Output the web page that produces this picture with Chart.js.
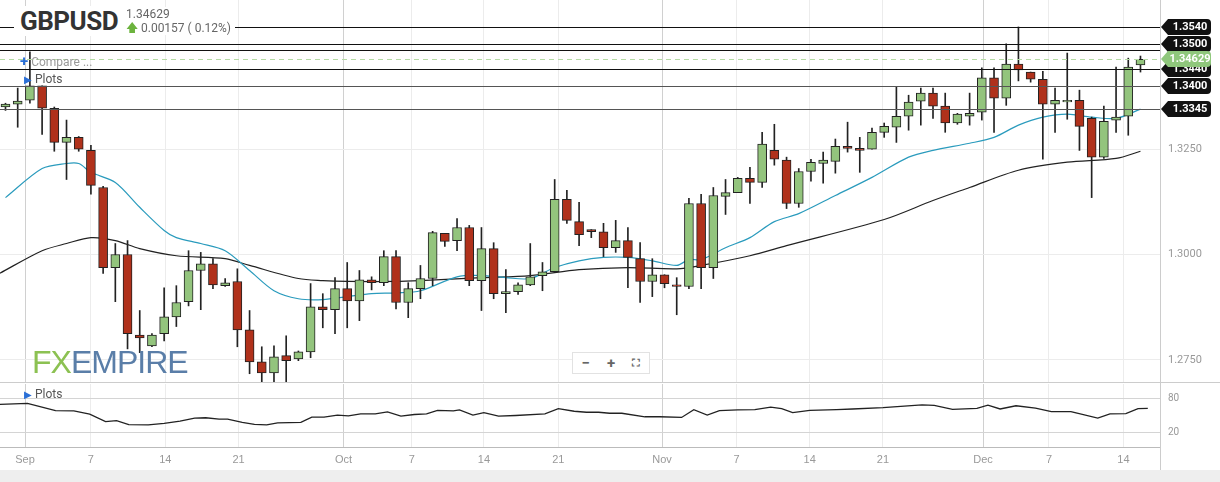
<!DOCTYPE html>
<html>
<head>
<title>GBPUSD</title>
<script src="https://cdn.jsdelivr.net/npm/chart.js"></script>
<style>
  body { margin: 0; background: #fff; font-family: Roboto, "Open Sans", sans-serif; }
  #wrap { position: relative; width: 1220px; height: 482px; overflow: hidden; }
  canvas { position: absolute; left: 0; }
  .txt { position: absolute; white-space: nowrap; }
</style>
</head>
<body>
<div id="wrap">
  <canvas id="mainChart" style="top:0" width="1220" height="383"></canvas>
  <canvas id="rsiChart" style="top:383px" width="1220" height="87"></canvas>
  <div style="position:absolute;left:0;top:470px;width:1220px;height:12px;background:#eee"></div>
  <div class="txt" style="left:14px;top:6px;background:#fff;padding:0 6px;font:bold 26px Roboto;color:#333;letter-spacing:-0.5px">GBPUSD</div>
  <div class="txt" style="left:122px;top:7px;background:#fff;padding:0 4px;font:12px Roboto;color:#666;line-height:14px">1.34629<br><span style="color:#6cb33e">&#129093;</span> 0.00157 ( 0.12%)</div>
  <div class="txt" style="left:20px;top:52px;font:12px Roboto;color:#999"><span style="color:#2a6fd6;font-weight:bold;font-size:15px">+</span> Compare ...</div>
  <div class="txt" style="left:24px;top:72px;font:12px Roboto;color:#555"><span style="color:#2a6fd6;font-size:10px">&#9654;</span> Plots</div>
  <div class="txt" style="left:24px;top:387px;font:12px Roboto;color:#555"><span style="color:#2a6fd6;font-size:10px">&#9654;</span> Plots</div>
  <div class="txt" style="left:32px;top:344px;font:32px 'Liberation Sans',Arial;letter-spacing:-1px"><span style="color:#8cc152">FX</span><span style="color:#5a7ea8">EMPIRE</span></div>
  <div class="txt" style="left:572px;top:352px;width:76px;height:20px;border:1px solid #e2e2e2;background:#fff;font:bold 15px Roboto;color:#666;display:flex;justify-content:space-around;align-items:center"><span>&minus;</span><span>+</span><span style="font-size:11px">&#9974;</span></div>
</div>
<script>
const bars = [...Array(94).keys()];
const opens  = [1.3350,1.3357,1.3366,1.3400,1.3347,1.3266,1.3278,1.3247,1.3159,1.2969,1.3000,1.2809,1.2783,1.2812,1.2852,1.2888,1.2962,1.2978,1.2926,1.2936,1.2821,1.2745,1.2719,1.2760,1.2752,1.2769,1.2876,1.2869,1.2919,1.2890,1.2940,1.2933,1.2995,1.2886,1.2919,1.2943,1.3050,1.3033,1.3064,1.2938,1.3014,1.2907,1.2912,1.2928,1.2950,1.2959,1.3131,1.3078,1.3059,1.3054,1.3016,1.3033,1.2990,1.2936,1.2952,1.2928,1.2924,1.3121,1.2969,1.3138,1.3147,1.3181,1.3171,1.3247,1.3224,1.3121,1.3197,1.3216,1.3221,1.3257,1.3252,1.3250,1.3290,1.3302,1.3328,1.3364,1.3383,1.3352,1.3312,1.3328,1.3338,1.3419,1.3371,1.3452,1.3433,1.3416,1.3357,1.3362,1.3366,1.3323,1.3231,1.3319,1.3328,1.3450];
const closes = [1.3357,1.3364,1.3400,1.3347,1.3266,1.3278,1.3250,1.3164,1.2969,1.3000,1.2812,1.2802,1.2809,1.2852,1.2886,1.2962,1.2978,1.2928,1.2933,1.2821,1.2745,1.2719,1.2757,1.2748,1.2769,1.2876,1.2869,1.2919,1.2890,1.2940,1.2933,1.2995,1.2886,1.2919,1.2943,1.3052,1.3031,1.3064,1.2938,1.3014,1.2907,1.2912,1.2928,1.2947,1.2959,1.3131,1.3081,1.3047,1.3054,1.3016,1.3033,1.2993,1.2936,1.2952,1.2931,1.2924,1.3121,1.2969,1.3140,1.3147,1.3181,1.3171,1.3262,1.3226,1.3121,1.3197,1.3219,1.3224,1.3257,1.3252,1.3247,1.3290,1.3304,1.3328,1.3362,1.3383,1.3352,1.3312,1.3333,1.3335,1.3419,1.3371,1.3452,1.3438,1.3416,1.3357,1.3366,1.3366,1.3304,1.3231,1.3316,1.3326,1.3445,1.34629];
const highs  = [1.3359,1.3395,1.3481,1.3400,1.3350,1.3319,1.3280,1.3259,1.3162,1.3026,1.3033,1.2867,1.2812,1.2921,1.2926,1.3009,1.3005,1.2990,1.2943,1.2966,1.2867,1.2781,1.2783,1.2807,1.2771,1.2931,1.2907,1.2945,1.2981,1.2962,1.2947,1.3009,1.3009,1.2933,1.2974,1.3055,1.3050,1.3085,1.3069,1.3064,1.3028,1.2964,1.2933,1.3026,1.2981,1.3178,1.3152,1.3124,1.3059,1.3074,1.3081,1.3064,1.3028,1.2990,1.2952,1.2945,1.3133,1.3143,1.3159,1.3178,1.3183,1.3207,1.3290,1.3309,1.3231,1.3204,1.3226,1.3243,1.3274,1.3314,1.3278,1.3300,1.3312,1.3397,1.3378,1.3395,1.3395,1.3383,1.3335,1.3383,1.3443,1.3443,1.3500,1.3540,1.3433,1.3435,1.3395,1.3478,1.3390,1.3326,1.3352,1.3445,1.3466,1.3471];
const lows   = [1.3342,1.3302,1.3359,1.3285,1.3245,1.3178,1.3245,1.3143,1.2955,1.2888,1.2776,1.2767,1.2781,1.2795,1.2829,1.2878,1.2869,1.2919,1.2924,1.2781,1.2717,1.2698,1.2698,1.2695,1.2748,1.2755,1.2826,1.2812,1.2826,1.2843,1.2916,1.2926,1.2871,1.2850,1.2895,1.2926,1.3019,1.3009,1.2926,1.2867,1.2895,1.2862,1.2905,1.2926,1.2914,1.2957,1.3074,1.3021,1.3040,1.2995,1.3005,1.2921,1.2886,1.2900,1.2921,1.2857,1.2919,1.2919,1.2943,1.3095,1.3147,1.3121,1.3159,1.3212,1.3109,1.3112,1.3174,1.3169,1.3193,1.3243,1.3195,1.3250,1.3278,1.3266,1.3295,1.3307,1.3323,1.3290,1.3309,1.3307,1.3319,1.3290,1.3354,1.3412,1.3409,1.3226,1.3290,1.3321,1.3247,1.3135,1.3228,1.3290,1.3283,1.3433];

const fastMaX = [0,3,5,6,7,9,11,13,14,16,18,20,22,24,26,28,30,32,34,37,39,41,43,45,47,49,51,53,55,56,57,59,61,63,65,68,71,74,76,79,81,83,85,87,89,91,93];
const fastMa  = [1.3135,1.3204,1.3216,1.3216,1.3195,1.3171,1.3112,1.3057,1.3040,1.3026,1.3009,1.2962,1.2914,1.2895,1.2893,1.2900,1.2907,1.2909,1.2914,1.2947,1.2950,1.2945,1.2943,1.2969,1.2985,1.2993,1.2993,1.2985,1.2974,1.2988,1.2988,1.3016,1.3040,1.3078,1.3097,1.3140,1.3183,1.3231,1.3247,1.3264,1.3278,1.3307,1.3326,1.3333,1.3326,1.3323,1.3345];
const slowMaX = [-0.5,3,5,7,9,11,14,18,20,24,26,28,32,34,39,43,47,51,55,57,61,64,72,76,79,83,87,91,93];
const slowMa  = [1.2955,1.3009,1.3026,1.3040,1.3033,1.3014,1.2997,1.2990,1.2974,1.2943,1.2938,1.2936,1.2936,1.2938,1.2945,1.2950,1.2964,1.2969,1.2966,1.2974,1.2997,1.3021,1.3083,1.3128,1.3159,1.3200,1.3219,1.3228,1.3245];

const rsiX = [-0.5,1.8,4.1,5.6,6.9,8.2,9.1,10.1,11.7,13,14.3,15.5,16.4,17.5,18.2,19.4,20.4,21.4,22.3,24.2,25.1,26.1,27.2,28.1,29.1,30.3,31.3,32.4,33.5,34.5,35.4,36.7,37.2,38.3,39.2,40.4,41.8,44.2,45.3,46.6,47.6,48.6,49.5,50.5,52.4,53.6,55.4,56.4,57.5,58.5,60,61.4,62.7,63.6,64.5,65.9,68.1,69.4,71.9,75.1,76.1,77.6,79.6,80.5,81.5,82.8,84.4,85.7,87.3,89.5,90.5,91.8,92.8,93.6];
const rsi  = [70,71.8,58.8,58.2,52.4,38.8,40.6,33.5,33,35.9,40,45.3,45.9,43.5,43.5,37.7,34.1,33,36.5,37.7,47.1,47.1,50.6,49.4,53,53,56.5,48.8,51.8,53,59.4,58.2,60,50.6,55.3,48.8,50,53,62.4,57.7,55.9,55.9,54.1,54.1,47.7,47.7,46.5,60.6,50.6,58.8,60,60.6,65.3,62.4,55.3,59.4,60.6,61.8,64.1,69.4,68.2,61.2,62.9,68.8,61.8,67.6,63.5,57.1,57.1,45.3,53,53.5,62.4,62.9];

const dateTickX = [1.6,7,13.1,19.1,27.7,33.3,39.2,45.3,53.8,59.9,65.9,71.9,80.1,85.5,91.6];
const dateTicks = ['Sep','7','14','21','Oct','7','14','21','Nov','7','14','21','Dec','7','14'];
const priceTicks = [1.2750, 1.3000, 1.3250];
const rsiTicks = [20, 80];
const levels = [1.3540, 1.3500, 1.3485, 1.3440, 1.3400, 1.3345];
const levelLabels = ['1.3540', '1.3500', '', '1.3440', '1.3400', '1.3345'];
const lastPrice = 1.34629;

const GREEN = '#93c47d', RED = '#b0311b';
const xMin = -0.45, xMax = 94.6;

function xAxis(showTicks) {
  return {
    type: 'linear', min: xMin, max: xMax, offset: false,
    afterBuildTicks: s => { s.ticks = dateTickX.map(v => ({ value: v })); },
    afterFit: s => { s.height = showTicks ? 23 : 0; },
    ticks: {
      display: showTicks, color: '#999', font: { size: 11 }, padding: 6, autoSkip: false, maxRotation: 0,
      callback: (v, i) => dateTicks[i]
    },
    grid: {
      drawTicks: false, offset: false,
      color: c => ['Sep', 'Oct', 'Nov', 'Dec'].includes(dateTicks[c.index]) ? '#d0d0d0' : '#ececec'
    },
    border: { display: false }
  };
}

function yAxis(min, max, ticks, gridColor) {
  return {
    position: 'right', min, max,
    afterBuildTicks: s => { s.ticks = ticks.map(v => ({ value: v })); },
    afterFit: s => { s.width = 60; },
    ticks: { display: false },
    grid: { color: gridColor, drawTicks: false },
    border: { display: false }
  };
}

function drawTickText(chart, ticks, fmt, size) {
  const ctx = chart.ctx, y = chart.scales.y;
  ctx.save();
  ctx.fillStyle = '#999';
  ctx.font = size + 'px Roboto';
  ctx.textAlign = 'left';
  ctx.textBaseline = 'middle';
  ticks.forEach(v => ctx.fillText(fmt(v), chart.chartArea.right + 8, y.getPixelForValue(v)));
  ctx.restore();
}

function boxLabel(ctx, y, text, bg, fg) {
  const x = 1161;
  ctx.fillStyle = bg;
  ctx.beginPath();
  ctx.moveTo(x, y);
  ctx.lineTo(x + 7, y - 8);
  ctx.lineTo(x + 46, y - 8);
  ctx.quadraticCurveTo(x + 50, y - 8, x + 50, y - 4);
  ctx.lineTo(x + 50, y + 4);
  ctx.quadraticCurveTo(x + 50, y + 8, x + 46, y + 8);
  ctx.lineTo(x + 7, y + 8);
  ctx.closePath();
  ctx.fill();
  ctx.fillStyle = fg;
  ctx.font = 'bold 11px Roboto';
  ctx.textAlign = 'center';
  ctx.textBaseline = 'middle';
  ctx.fillText(text, x + 29, y + 0.5);
}

const levelPlugin = {
  id: 'levels',
  afterDatasetsDraw(chart) {
    const ctx = chart.ctx, y = chart.scales.y, a = chart.chartArea;
    drawTickText(chart, priceTicks, v => v.toFixed(4), 11);
    ctx.save();
    const py = Math.round(y.getPixelForValue(lastPrice)) + 0.5;
    ctx.strokeStyle = '#b5dba5';
    ctx.setLineDash([5, 4]);
    ctx.beginPath(); ctx.moveTo(a.left, py); ctx.lineTo(a.right, py); ctx.stroke();
    ctx.setLineDash([]);
    levels.forEach(v => {
      const p = Math.round(y.getPixelForValue(v)) + 0.5;
      ctx.strokeStyle = v < 1.3420 ? '#555' : '#111';
      ctx.lineWidth = 1;
      ctx.beginPath(); ctx.moveTo(a.left, p); ctx.lineTo(a.right, p); ctx.stroke();
    });
    levels.forEach((v, i) => {
      if (levelLabels[i]) boxLabel(ctx, Math.round(y.getPixelForValue(v)), levelLabels[i], '#111', '#fff');
    });
    boxLabel(ctx, Math.round(y.getPixelForValue(lastPrice)), lastPrice.toFixed(5), '#8fc77c', '#fff');
    ctx.strokeStyle = '#ccc';
    ctx.beginPath(); ctx.moveTo(a.right + 0.5, 0); ctx.lineTo(a.right + 0.5, chart.height); ctx.stroke();
    ctx.beginPath(); ctx.moveTo(0, chart.height - 0.5); ctx.lineTo(chart.width, chart.height - 0.5); ctx.stroke();
    ctx.restore();
  }
};

new Chart(document.getElementById('mainChart'), {
  type: 'bar',
  data: {
    datasets: [
      {
        type: 'line', data: fastMaX.map((x, i) => ({ x, y: fastMa[i] })),
        borderColor: '#2a9bbd', borderWidth: 1.2, pointRadius: 0, tension: 0.3, order: 3
      },
      {
        type: 'line', data: slowMaX.map((x, i) => ({ x, y: slowMa[i] })),
        borderColor: '#222', borderWidth: 1.2, pointRadius: 0, tension: 0.3, order: 3
      },
      {
        data: bars.map(i => ({ x: i, y: [lows[i], highs[i]] })),
        backgroundColor: '#222', barThickness: 1, grouped: false, order: 2
      },
      {
        data: bars.map(i => ({ x: i, y: [opens[i], closes[i]] })),
        backgroundColor: bars.map(i => closes[i] >= opens[i] ? GREEN : RED),
        borderColor: '#222', borderWidth: 1, borderSkipped: false, barThickness: 9, grouped: false, order: 1
      }
    ]
  },
  options: {
    responsive: false, animation: false,
    layout: { padding: 0 },
    plugins: { legend: { display: false }, tooltip: { enabled: false } },
    scales: {
      x: xAxis(false),
      y: yAxis(1.2695, 1.3604, priceTicks, '#ececec')
    }
  },
  plugins: [levelPlugin]
});

new Chart(document.getElementById('rsiChart'), {
  type: 'line',
  data: {
    datasets: [{
      data: rsiX.map((x, i) => ({ x, y: rsi[i] })),
      borderColor: '#222', borderWidth: 1.3, pointRadius: 0, tension: 0
    }]
  },
  options: {
    responsive: false, animation: false,
    layout: { padding: { top: 1 } },
    plugins: { legend: { display: false }, tooltip: { enabled: false } },
    scales: {
      x: xAxis(true),
      y: yAxis(-7, 107, rsiTicks, '#d4d4d4')
    }
  },
  plugins: [{
    id: 'edges',
    afterDraw(chart) {
      const ctx = chart.ctx, a = chart.chartArea;
      drawTickText(chart, rsiTicks, v => String(v), 10);
      ctx.save();
      ctx.strokeStyle = '#bbb';
      ctx.beginPath(); ctx.moveTo(0, a.bottom + 0.5); ctx.lineTo(a.right, a.bottom + 0.5); ctx.stroke();
      ctx.strokeStyle = '#ccc';
      ctx.beginPath(); ctx.moveTo(a.right + 0.5, 0); ctx.lineTo(a.right + 0.5, chart.height); ctx.stroke();
      ctx.restore();
    }
  }]
});
</script>
</body>
</html>
